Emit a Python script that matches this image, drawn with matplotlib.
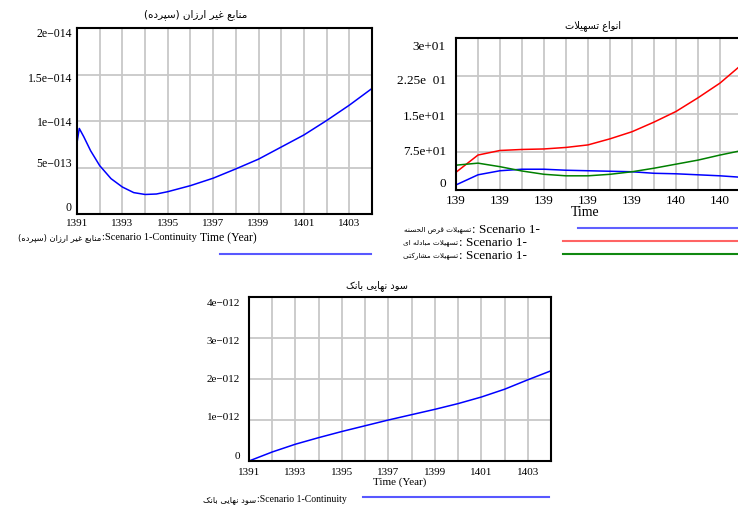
import matplotlib

matplotlib.use("Agg")
import matplotlib.pyplot as plt

W, H = 738, 506
SERIF = ["Liberation Serif", "DejaVu Sans"]

# panel 1: non-cheap deposits
p1_years = [1391, 1391.1, 1391.3, 1391.6, 1392, 1392.5, 1393, 1393.5, 1394, 1394.5,
            1395, 1396, 1397, 1398, 1399, 1400, 1401, 1402, 1403, 1404]
p1_vals = [0.765, 0.92, 0.83, 0.68, 0.52, 0.38, 0.29, 0.23, 0.21, 0.215,
           0.24, 0.305, 0.385, 0.485, 0.59, 0.72, 0.85, 1.005, 1.17, 1.35]
p1_yticks = ["0", "5e\u2212013", "1e\u2212014", "1.5e\u2212014", "2e\u2212014"]

# panel 2: facility types
p2_years = [1391, 1392, 1393, 1394, 1395, 1396, 1397, 1398, 1399, 1400, 1401, 1402, 1403, 1404]
qard = [1.0, 3.0, 3.8, 4.1, 4.1, 3.9, 3.8, 3.7, 3.6, 3.3, 3.2, 3.0, 2.8, 2.5]
mobadele = [3.5, 6.9, 7.8, 8.0, 8.1, 8.4, 8.9, 10.1, 11.5, 13.4, 15.5, 18.2, 21.1, 24.8]
mosharekat = [4.9, 5.3, 4.6, 3.75, 3.1, 2.8, 2.8, 3.1, 3.6, 4.3, 5.1, 5.9, 6.9, 7.8]
p2_yticks = ["0", "7.5e+01", "1.5e+01", "2.25e  01", "3e+01"]
p2_xticks = ["139", "139", "139", "139", "139", "140", "140"]

# panel 3: final bank profit
p3_years = [1391, 1392, 1393, 1394, 1395, 1396, 1397, 1398, 1399, 1400, 1401, 1402, 1403, 1404]
p3_vals = [0.0, 0.22, 0.41, 0.57, 0.72, 0.86, 1.0, 1.13, 1.26, 1.40, 1.56, 1.75, 1.98, 2.2]
p3_yticks = ["0", "1e\u2212012", "2e\u2212012", "3e\u2212012", "4e\u2212012"]

year_ticks = [1391, 1393, 1395, 1397, 1399, 1401, 1403]

# minimal Persian shaping: (isolated, final, initial, medial)
FORMS = {
    "ا": ("\uFE8D", "\uFE8E", None, None),
    "ب": ("\uFE8F", "\uFE90", "\uFE91", "\uFE92"),
    "ت": ("\uFE95", "\uFE96", "\uFE97", "\uFE98"),
    "ح": ("\uFEA1", "\uFEA2", "\uFEA3", "\uFEA4"),
    "د": ("\uFEA9", "\uFEAA", None, None),
    "ر": ("\uFEAD", "\uFEAE", None, None),
    "ز": ("\uFEAF", "\uFEB0", None, None),
    "س": ("\uFEB1", "\uFEB2", "\uFEB3", "\uFEB4"),
    "ش": ("\uFEB5", "\uFEB6", "\uFEB7", "\uFEB8"),
    "ض": ("\uFEBD", "\uFEBE", "\uFEBF", "\uFEC0"),
    "ع": ("\uFEC9", "\uFECA", "\uFECB", "\uFECC"),
    "غ": ("\uFECD", "\uFECE", "\uFECF", "\uFED0"),
    "ق": ("\uFED5", "\uFED6", "\uFED7", "\uFED8"),
    "ل": ("\uFEDD", "\uFEDE", "\uFEDF", "\uFEE0"),
    "م": ("\uFEE1", "\uFEE2", "\uFEE3", "\uFEE4"),
    "ن": ("\uFEE5", "\uFEE6", "\uFEE7", "\uFEE8"),
    "ه": ("\uFEE9", "\uFEEA", "\uFEEB", "\uFEEC"),
    "و": ("\uFEED", "\uFEEE", None, None),
    "پ": ("\uFB56", "\uFB57", "\uFB58", "\uFB59"),
    "ک": ("\uFB8E", "\uFB8F", "\uFB90", "\uFB91"),
    "ی": ("\uFBFC", "\uFBFD", "\uFBFE", "\uFBFF"),
}
LAM_ALEF = ("\uFEFB", "\uFEFC")


def fa(s):
    out = []
    i = 0
    while i < len(s):
        c = s[i]
        prev = s[i - 1] if i > 0 else ""
        prev_joins = prev in FORMS and FORMS[prev][2] is not None
        if c not in FORMS:
            out.append(c)
            i += 1
            continue
        if c == "ل" and i + 1 < len(s) and s[i + 1] == "ا":
            out.append(LAM_ALEF[1] if prev_joins else LAM_ALEF[0])
            i += 2
            continue
        nxt = s[i + 1] if i + 1 < len(s) else ""
        next_joins = nxt in FORMS and FORMS[c][2] is not None
        iso, fin, ini, med = FORMS[c]
        if prev_joins and next_joins:
            out.append(med)
        elif prev_joins:
            out.append(fin)
        elif next_joins:
            out.append(ini)
        else:
            out.append(iso)
        i += 1
    vis = "".join(reversed(out))
    return vis.translate(str.maketrans("()", ")("))


def px(x, y):
    return x / W, 1 - y / H


def legend_text(persian, latin, x_right, y, fs_fa, fs_lat):
    # latin part right-aligned, persian part glued to its left edge
    t = fig.text(*px(x_right, y), latin, ha="right", va="center",
                 fontsize=fs_lat, family=SERIF)
    x0 = t.get_window_extent(renderer).x0
    fig.text(*px(x0 - 1, y), fa(persian), ha="right", va="center",
             fontsize=fs_fa, family="DejaVu Sans")


def style_axes(ax, ylim, yvals, ylabels, label_x, label_ys, fs):
    ax.set_xlim(1391, 1404)
    ax.set_ylim(*ylim)
    ax.set_xticks(range(1391, 1405), minor=True)
    ax.set_yticks(yvals)
    ax.set_yticklabels([])
    ax.grid(True, which="both", axis="x", color="#c8c8c8", linewidth=1.3)
    ax.grid(True, axis="y", color="#c8c8c8", linewidth=1.3)
    ax.tick_params(which="both", length=0, pad=3)
    for sp in ax.spines.values():
        sp.set_linewidth(1.5)
        sp.set_color("black")
    ax.set_axisbelow(True)
    # Vensim-style y labels, nudged toward the middle of the axis
    for lab, yy in zip(ylabels, label_ys):
        fig.text(*px(label_x, yy), lab, ha="right", va="center", fontsize=fs, family=SERIF)


fig = plt.figure(figsize=(W / 100, H / 100), dpi=100)
renderer = fig.canvas.get_renderer()

# panel 1
ax1 = fig.add_axes([77 / W, 1 - 215 / H, 295 / W, 186 / H])
style_axes(ax1, (0, 2), [0, 0.5, 1, 1.5, 2], p1_yticks, 72, [208, 164, 123, 79, 34], 8.5)
ax1.set_xticks(year_ticks)
ax1.set_xticklabels([str(y) for y in year_ticks], fontsize=8, family=SERIF)
ax1.plot(p1_years, p1_vals, color="#0000ff", linewidth=1.1)
fig.text(*px(196, 15), fa("منابع غیر ارزان (سپرده)"), ha="center", va="center",
         fontsize=7.5, family="DejaVu Sans")
legend_text("منابع غیر ارزان (سپرده)", ":Scenario 1-Continuity", 197, 238, 6, 7.5)
fig.text(*px(228, 238), "Time (Year)", ha="center", va="center", fontsize=8.5, family=SERIF)
fig.add_artist(plt.Line2D([220 / W, 371 / W], [1 - 255 / H] * 2, color="#5858ff", linewidth=1.5))

# panel 2
ax2 = fig.add_axes([456 / W, 1 - 191 / H, 286 / W, 152 / H])
style_axes(ax2, (0, 30), [0, 7.5, 15, 22.5, 30], p2_yticks, 446, [184, 152, 117, 81, 47], 9.5)
ax2.set_xticks(year_ticks)
ax2.set_xticklabels(p2_xticks, fontsize=9.5, family=SERIF)
ax2.plot(p2_years, qard, color="#0000ff", linewidth=1.1)
ax2.plot(p2_years, mobadele, color="#ff0000", linewidth=1.1)
ax2.plot(p2_years, mosharekat, color="#008000", linewidth=1.1)
fig.text(*px(593, 26), fa("انواع تسهیلات"), ha="center", va="center",
         fontsize=7, family="DejaVu Sans")
fig.text(*px(585, 213), "Time", ha="center", va="center", fontsize=10, family=SERIF)
p2_labels = ["تسهیلات قرض الحسنه", "تسهیلات مبادله ای", "تسهیلات مشارکتی"]
p2_colors = ["#6060ff", "#ff6464", "#108810"]
p2_rows = [(230, 540, 578), (243, 527, 563), (256, 527, 563)]
for lab, col, (yy, xr, xl) in zip(p2_labels, p2_colors, p2_rows):
    legend_text(lab, ": Scenario 1-", xr, yy, 5.2, 9.5)
    fig.add_artist(plt.Line2D([xl / W, 1.0], [1 - (yy - 1) / H] * 2, color=col, linewidth=1.5))

# panel 3
ax3 = fig.add_axes([249 / W, 1 - 462 / H, 302 / W, 164 / H])
style_axes(ax3, (0, 4), [0, 1, 2, 3, 4], p3_yticks, 240, [457, 418, 380, 342, 303], 8)
ax3.set_xticks(year_ticks)
ax3.set_xticklabels([str(y) for y in year_ticks], fontsize=8, family=SERIF)
ax3.tick_params(axis="x", pad=4)
ax3.plot(p3_years, p3_vals, color="#0000ff", linewidth=1.1)
fig.text(*px(377, 286), fa("سود نهایی بانک"), ha="center", va="center",
         fontsize=7, family="DejaVu Sans")
fig.text(*px(400, 482), "Time (Year)", ha="center", va="center", fontsize=8, family=SERIF)
legend_text("سود نهایی بانک", ":Scenario 1-Continuity", 347, 500, 6, 7)
fig.add_artist(plt.Line2D([363 / W, 549 / W], [1 - 498 / H] * 2, color="#5858ff", linewidth=1.5))

fig.savefig("out.png", dpi=100)
